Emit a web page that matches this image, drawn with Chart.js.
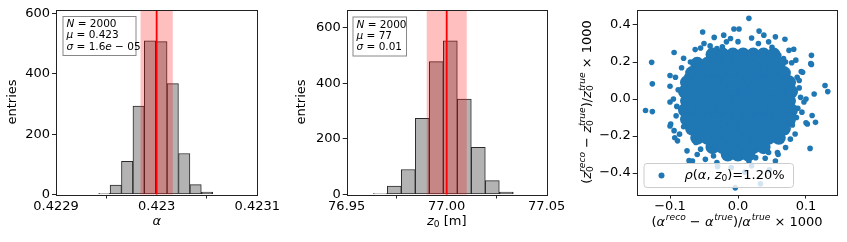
<!DOCTYPE html>
<html>
<head>
<meta charset="utf-8">
<script src="https://cdn.jsdelivr.net/npm/chart.js@4.4.1/dist/chart.umd.min.js"></script>
<style>
  html, body { margin: 0; padding: 0; background: #fff; }
  #wrap { position: relative; width: 847px; height: 242px; }
  canvas { position: absolute; left: 0; top: 0; }
</style>
</head>
<body>
<div id="wrap">
  <canvas id="c1" width="847" height="242"></canvas>
  <canvas id="c2" width="847" height="242"></canvas>
  <canvas id="c3" width="847" height="242"></canvas>
</div>
<script>
// ---- alpha histogram
const alphaCenters = [0.4229481, 0.4229594, 0.4229707, 0.4229821, 0.4229934, 0.4230047, 0.4230160, 0.4230274, 0.4230387, 0.4230500];
const alphaCounts = [4, 31, 110, 293, 510, 507, 368, 136, 33, 8];
const alphaTicks = [0.4229, 0.4230, 0.4231];
const alphaTickLabels = ['0.4229', '0.423', '0.4231'];
const alphaMu = 0.423, alphaSigma = 1.6e-5;

// ---- z0 histogram
const zCenters = [76.9668, 76.9738, 76.9808, 76.9878, 76.9948, 77.0018, 77.0088, 77.0158, 77.0228, 77.0298];
const zCounts = [3, 30, 90, 274, 478, 553, 343, 170, 50, 9];
const zTicks = [76.95, 77.00, 77.05];
const zTickLabels = ['76.95', '77.00', '77.05'];
const zMu = 77.0, zSigma = 0.01;

const countTicks = [0, 200, 400, 600];

// ---- scatter: dense core (rows of y with x positions) and single points
const coreRows = [
  [0.24, [-0.0375, -0.0225, -0.0075, 0.0075, 0.0225, 0.0375, 0.0525]],
  [0.19, [-0.06, -0.045, -0.03, -0.015, 0, 0.015, 0.03, 0.045, 0.06]],
  [0.14, [-0.0675, -0.0525, -0.0375, -0.0225, -0.0075, 0.0075, 0.0225, 0.0375, 0.0525, 0.0675]],
  [0.09, [-0.075, -0.06, -0.045, -0.03, -0.015, 0, 0.015, 0.03, 0.045, 0.06, 0.075]],
  [0.04, [-0.078, -0.0675, -0.0525, -0.0375, -0.0225, -0.0075, 0.0075, 0.0225, 0.0375, 0.0525, 0.0675, 0.078]],
  [-0.01, [-0.075, -0.06, -0.045, -0.03, -0.015, 0, 0.015, 0.03, 0.045, 0.06, 0.075]],
  [-0.06, [-0.078, -0.0675, -0.0525, -0.0375, -0.0225, -0.0075, 0.0075, 0.0225, 0.0375, 0.0525, 0.0675, 0.078]],
  [-0.11, [-0.075, -0.06, -0.045, -0.03, -0.015, 0, 0.015, 0.03, 0.045, 0.06, 0.075]],
  [-0.16, [-0.0675, -0.0525, -0.0375, -0.0225, -0.0075, 0.0075, 0.0225, 0.0375, 0.0525, 0.0675]],
  [-0.21, [-0.06, -0.045, -0.03, -0.015, 0, 0.015, 0.03, 0.045, 0.06]],
  [-0.26, [-0.0375, -0.0225, -0.0075, 0.0075, 0.0225, 0.0375]],
  [-0.30, [-0.015, 0, 0.015]]
];
const scatterPts = [
  [-0.127, 0.198], [-0.126, 0.082], [-0.094, 0.251], [-0.052, 0.362], [-0.035, 0.333], [-0.006, 0.378],
  [-0.083, 0.169], [-0.100, 0.127], [-0.100, 0.069], [-0.075, 0.123], [-0.092, 0.118], [-0.063, 0.267],
  [-0.055, 0.276], [-0.041, 0.287], [-0.031, 0.273], [-0.021, 0.345], [-0.017, 0.309], [-0.023, 0.282],
  [-0.011, 0.327], [0.016, 0.436], [0.0015, 0.378], [0.031, 0.367], [0.038, 0.345], [0.069, 0.323],
  [0.082, 0.269], [0.075, 0.263], [0.108, 0.236], [0.108, 0.187], [0.093, 0.149], [0.079, 0.196],
  [0.128, 0.073], [0.132, 0.040], [0.112, 0.027], [0.092, 0.009], [0.055, 0.336], [0.045, 0.309],
  [0.060, 0.236], [0.067, 0.218], [0.087, 0.118], [0.075, 0.100], [-0.136, -0.062], [-0.126, -0.068],
  [-0.100, -0.016], [-0.099, -0.135], [-0.089, -0.226], [-0.094, -0.171], [-0.075, -0.280], [-0.062, -0.235],
  [-0.055, -0.271], [-0.067, -0.335], [-0.048, -0.326], [-0.036, -0.308], [-0.031, -0.344], [-0.016, -0.317],
  [-0.004, -0.480], [0.109, -0.089], [0.114, -0.126], [0.102, -0.135], [0.106, -0.267], [0.084, -0.189],
  [0.094, -0.071], [0.097, -0.016], [0.070, -0.262], [0.058, -0.289], [0.045, -0.289], [0.055, -0.335],
  [0.016, -0.335], [0.033, -0.458], [0.070, -0.180], [0.077, -0.217], [0.041, -0.226], [0.026, -0.317],
  [-0.072, -0.333], [-0.093, -0.209], [-0.100, -0.146], [-0.091, -0.091], [0.059, -0.300], [0.100, -0.128],
  [0.107, 0.191], [0.095, 0.145], [0.046, -0.382], [-0.010, -0.370], [0.020, -0.360],
  [-0.088, 0.050], [-0.090, -0.040], [0.090, 0.060], [0.088, -0.050], [-0.070, 0.200], [0.070, 0.200],
  [-0.080, -0.150], [0.080, -0.140], [-0.050, 0.300], [0.000, 0.310], [0.030, 0.300], [-0.060, -0.300],
  [0.040, -0.320], [0.100, 0.000], [-0.095, 0.000], [0.090, 0.100], [0.020, 0.330], [0.050, 0.280],
  [-0.080, 0.220], [0.085, 0.210], [-0.086, -0.190], [0.086, -0.100], [0.010, -0.395], [-0.030, -0.365]
];
const rhoText = '=1.20%';

const FONT = '"DejaVu Sans"';
const YW = 40, XH = 40;

// draws text with italic parts, sub- and superscripts; returns width
function rich(ctx, parts, x, y, size, dry) {
  let cx = x;
  const ss = size * 0.7;
  for (const p of parts) {
    ctx.font = (p.i ? 'italic ' : '') + size + 'px ' + FONT;
    const w = ctx.measureText(p.t).width;
    if (!dry) ctx.fillText(p.t, cx, y);
    let sw = 0;
    if (p.b) {
      ctx.font = ss + 'px ' + FONT;
      if (!dry) ctx.fillText(p.b, cx + w, y + size * 0.22);
      sw = ctx.measureText(p.b).width;
    }
    if (p.p) {
      ctx.font = 'italic ' + ss + 'px ' + FONT;
      const off = p.b ? 0 : size * 0.06;
      if (!dry) ctx.fillText(p.p, cx + w + off, y - size * 0.42);
      sw = Math.max(sw, ctx.measureText(p.p).width + off);
    }
    cx += w + sw;
  }
  return cx - x;
}
function richCenter(ctx, parts, x, y, size, rot) {
  ctx.save();
  ctx.translate(x, y);
  if (rot) ctx.rotate(-Math.PI / 2);
  ctx.textBaseline = 'middle';
  ctx.textAlign = 'left';
  const w = rich(ctx, parts, 0, 0, size, true);
  rich(ctx, parts, -w / 2, 0, size, false);
  ctx.restore();
}

const histBand = {
  id: 'histBand',
  afterDatasetsDraw(chart, args, o) {
    const { ctx, chartArea: a, scales: { x } } = chart;
    const x0 = x.getPixelForValue(o.mu - o.sigma), x1 = x.getPixelForValue(o.mu + o.sigma);
    const xm = x.getPixelForValue(o.mu);
    ctx.save();
    ctx.fillStyle = 'rgba(255,0,0,0.25)';
    ctx.fillRect(x0, a.top, x1 - x0, a.bottom - a.top);
    ctx.strokeStyle = '#ff0000';
    ctx.lineWidth = 1.8;
    ctx.beginPath(); ctx.moveTo(xm, a.top); ctx.lineTo(xm, a.bottom); ctx.stroke();
    ctx.restore();
  }
};

const deco = {
  id: 'deco',
  afterDraw(chart, args, o) {
    const { ctx, chartArea: a } = chart;
    ctx.save();
    ctx.fillStyle = '#000';
    if (o.box) {
      const b = o.box;
      ctx.fillStyle = '#fff';
      ctx.fillRect(b.x, b.y, b.w, b.h);
      ctx.strokeStyle = '#888';
      ctx.lineWidth = 1;
      ctx.strokeRect(b.x + 0.5, b.y + 0.5, b.w, b.h);
      ctx.fillStyle = '#000';
      ctx.textBaseline = 'alphabetic';
      b.lines.forEach((ln, i) => rich(ctx, ln, b.x + 4, b.y + 11 + i * 11.3, 10.5, false));
    }
    if (o.legend) {
      const g = o.legend;
      ctx.fillStyle = 'rgba(255,255,255,0.8)';
      ctx.strokeStyle = '#cccccc';
      ctx.lineWidth = 1;
      ctx.beginPath();
      ctx.roundRect(g.x + 0.5, g.y + 0.5, g.w, g.h, 3);
      ctx.fill(); ctx.stroke();
      ctx.fillStyle = '#1f77b4';
      ctx.beginPath(); ctx.arc(g.x + 18, g.y + g.h / 2 + 0.5, 3, 0, Math.PI * 2); ctx.fill();
      ctx.fillStyle = '#000';
      ctx.textBaseline = 'middle';
      rich(ctx, g.parts, g.x + 41, g.y + g.h / 2 + 0.5, 13, false);
    }
    ctx.fillStyle = '#000';
    richCenter(ctx, o.xlabel, o.xl[0], o.xl[1], 13, false);
    richCenter(ctx, o.ylabel, o.yl[0], o.yl[1], 13, true);
    ctx.strokeStyle = '#222';
    ctx.lineWidth = 1;
    ctx.strokeRect(Math.round(a.left) + 0.5, Math.round(a.top) + 0.5, Math.round(a.right - a.left), Math.round(a.bottom - a.top));
    ctx.restore();
  }
};

function axisOpts(min, max, ticks, labels, isX) {
  return {
    type: 'linear', min, max, offset: false,
    afterBuildTicks: s => { s.ticks = ticks.map(v => ({ value: v })); },
    afterFit: s => { if (isX) s.height = XH; else s.width = YW; },
    ticks: {
      autoSkip: false, maxRotation: 0, color: '#000',
      font: { family: 'DejaVu Sans', size: 13 },
      padding: isX ? 0 : 2,
      callback: (v, i) => labels[i]
    },
    grid: { display: true, drawOnChartArea: false, drawTicks: true, tickLength: 4, tickColor: '#222', tickWidth: 1 },
    border: { display: false }
  };
}

function pad(L, R, T, B) {
  return { left: L - YW, right: 847 - R, top: T, bottom: 242 - B - XH };
}

const entries = [{ t: 'entries' }];

function histChart(id, centers, counts, mu, sigma, xr, ticks, tlabels, ymax, area, d) {
  return new Chart(document.getElementById(id), {
    type: 'bar',
    data: {
      datasets: [{
        data: centers.map((c, i) => ({ x: c, y: counts[i] })),
        backgroundColor: '#b3b3b3', borderColor: '#2a2a2a', borderWidth: 1,
        borderSkipped: false, barPercentage: 1, categoryPercentage: 1
      }]
    },
    options: {
      responsive: false, animation: false, events: [],
      layout: { padding: pad(area[0], area[1], area[2], area[3]) },
      plugins: { legend: { display: false }, tooltip: { enabled: false }, histBand: { mu, sigma }, deco: d },
      scales: {
        x: axisOpts(xr[0], xr[1], ticks, tlabels, true),
        y: axisOpts(0, ymax, countTicks, countTicks.map(String), false)
      }
    },
    plugins: [histBand, deco]
  });
}

histChart('c1', alphaCenters, alphaCounts, alphaMu, alphaSigma, [0.4229, 0.4231], alphaTicks, alphaTickLabels, 612,
  [56, 257.3, 10, 194.5], {
    xlabel: [{ t: 'α', i: 1 }], xl: [156.7, 222],
    ylabel: entries, yl: [13, 102],
    box: { x: 62.5, y: 16, w: 73, h: 39, lines: [
      [{ t: 'N', i: 1 }, { t: ' = 2000' }],
      [{ t: 'μ', i: 1 }, { t: ' = 0.423' }],
      [{ t: 'σ', i: 1 }, { t: ' = 1.6' }, { t: 'e', i: 1 }, { t: ' − 05' }]
    ] }
  });

histChart('c2', zCenters, zCounts, zMu, zSigma, [76.95, 77.05], zTicks, zTickLabels, 663.6,
  [346.7, 546.7, 10, 194.5], {
    xlabel: [{ t: 'z', i: 1, b: '0' }, { t: ' [m]' }], xl: [446.7, 222],
    ylabel: entries, yl: [302, 102],
    box: { x: 352.5, y: 16.5, w: 53.5, h: 39, lines: [
      [{ t: 'N', i: 1 }, { t: ' = 2000' }],
      [{ t: 'μ', i: 1 }, { t: ' = 77' }],
      [{ t: 'σ', i: 1 }, { t: ' = 0.01' }]
    ] }
  });

const corePts = [];
coreRows.forEach(r => r[1].forEach(x => corePts.push({ x, y: r[0] })));

const scTicksX = [-0.1, 0, 0.1];
const scTicksY = [-0.4, -0.2, 0, 0.2, 0.4];
const fmt = v => v.toFixed(1).replace('-', '−');

new Chart(document.getElementById('c3'), {
  type: 'scatter',
  data: {
    datasets: [
      { data: corePts, backgroundColor: '#1f77b4', pointRadius: 7, borderWidth: 0 },
      { data: scatterPts.map(p => ({ x: p[0], y: p[1] })), backgroundColor: '#1f77b4', pointRadius: 2.8, borderWidth: 0 }
    ]
  },
  options: {
    responsive: false, animation: false, events: [],
    layout: { padding: pad(636.7, 837, 10, 194.5) },
    plugins: {
      legend: { display: false }, tooltip: { enabled: false },
      deco: {
        xlabel: [{ t: '(' }, { t: 'α', i: 1, p: 'reco' }, { t: ' − ' }, { t: 'α', i: 1, p: 'true' }, { t: ')/' }, { t: 'α', i: 1, p: 'true' }, { t: ' × 1000' }],
        xl: [737, 223],
        ylabel: [{ t: '(' }, { t: 'z', i: 1, b: '0', p: 'reco' }, { t: ' − ' }, { t: 'z', i: 1, b: '0', p: 'true' }, { t: ')/' }, { t: 'z', i: 1, b: '0', p: 'true' }, { t: ' × 1000' }],
        yl: [588, 102],
        legend: { x: 643.5, y: 163, w: 149.5, h: 24,
          parts: [{ t: 'ρ', i: 1 }, { t: '(' }, { t: 'α', i: 1 }, { t: ', ' }, { t: 'z', i: 1, b: '0' }, { t: ')' + rhoText }] }
      }
    },
    scales: {
      x: axisOpts(-0.149, 0.1456, scTicksX, scTicksX.map(fmt), true),
      y: axisOpts(-0.516, 0.481, scTicksY, scTicksY.map(fmt), false)
    }
  },
  plugins: [deco]
});
</script>
</body>
</html>
